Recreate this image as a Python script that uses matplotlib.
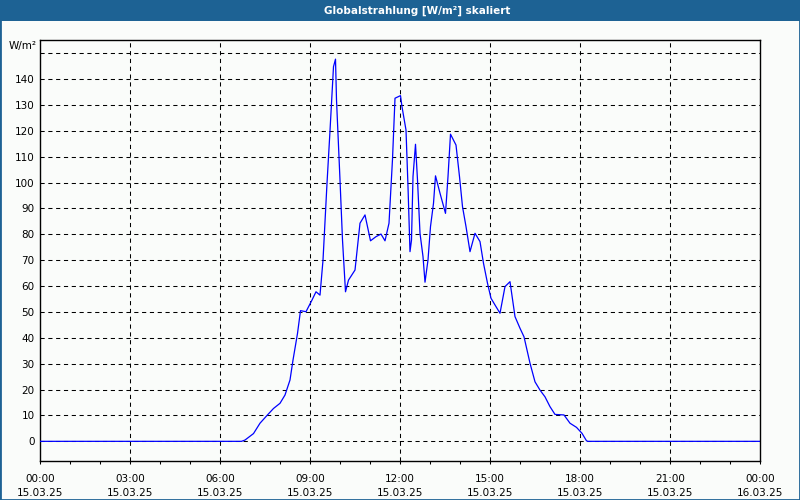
import numpy as np
import pandas as pd
import matplotlib
matplotlib.use("Agg")
import matplotlib.pyplot as plt
import matplotlib.dates as mdates
from matplotlib.patches import Rectangle

# Globalstrahlung 15.03.25
times = ["00:00", "06:43", "06:50", "07:07", "07:20", "07:34", "07:47", "08:00", "08:10", "08:20",
         "08:26", "08:35", "08:41", "08:52", "09:04", "09:12", "09:20", "09:26", "09:34", "09:40",
         "09:47", "09:51", "09:53", "10:00", "10:05", "10:11", "10:17", "10:30", "10:40", "10:50",
         "11:01", "11:12", "11:22", "11:30", "11:38", "11:45", "11:50", "12:01", "12:04", "12:12",
         "12:16", "12:20", "12:23", "12:26", "12:31", "12:35", "12:40", "12:46", "12:50", "12:56",
         "13:01", "13:07", "13:11", "13:20", "13:31", "13:36", "13:41", "13:52", "13:59", "14:05",
         "14:12", "14:20", "14:30", "14:40", "14:47", "14:55", "15:02", "15:10", "15:20", "15:30",
         "15:40", "15:50", "16:00", "16:08", "16:20", "16:30", "16:40", "16:50", "17:00", "17:10",
         "17:28", "17:40", "17:53", "18:04", "18:13", "18:16", "23:59"]
values = [0, 0, 0.5, 3, 7, 10, 12.7, 14.7, 17.9, 23.7,
          31.4, 41.7, 50.5, 50.1, 54.6, 57.8, 56.5, 70, 99.7, 120,
          144.8, 147.7, 132, 101, 77.8, 57.8, 62.3, 66.2, 84.3, 87.5,
          77.5, 79.1, 80.1, 77.5, 84.3, 109, 132.6, 133.6, 129.3, 120.3,
          98.4, 73.3, 77.8, 102.3, 114.8, 101, 80.4, 71.4, 61.5, 70.1,
          83, 92, 102.6, 95.9, 88.1, 102.3, 118.7, 114.5, 102.3, 90.7,
          83, 73.3, 80.4, 77.2, 68.8, 61.1, 55.3, 52.7, 49.5, 59.8,
          61.7, 48.2, 43.7, 40.4, 30.2, 23, 19.8, 17.2, 13.4, 10.4,
          10.2, 7, 5.4, 3.1, 0.2, 0, 0]
y_ticks = list(range(0, 150, 10))
y_grid = list(range(0, 160, 10))

t = pd.to_datetime(["2025-03-15 " + s for s in times])
t0 = pd.Timestamp("2025-03-15 00:00")
t1 = pd.Timestamp("2025-03-16 00:00")

bg = "#fafcfa"
blue = "#1d6294"

fig = plt.figure(figsize=(8, 5), dpi=100, facecolor=bg)
ax = fig.add_axes([40 / 800, 39 / 500, 720 / 800, 421 / 500], facecolor=bg)

# Titelleiste
fig.patches.append(Rectangle((0, 1 - 21 / 500), 1, 21 / 500, transform=fig.transFigure,
                             facecolor=blue, edgecolor="none", zorder=0))
fig.patches.append(Rectangle((0, 0), 1, 1, transform=fig.transFigure,
                             facecolor="none", edgecolor=blue, lw=2, zorder=5))
fig.text(417 / 800, 1 - 11 / 500, "Globalstrahlung [W/m²] skaliert", color="white",
         fontsize=7.5, fontweight="bold", ha="center", va="center")
fig.text(37 / 800, 1 - 46 / 500, "W/m²", fontsize=7.5, ha="right", va="center")

for v in y_grid:
    ax.axhline(v, color="black", lw=0.75, linestyle=(0, (4, 3.5)), zorder=1)
for h in range(3, 24, 3):
    ax.axvline(t0 + pd.Timedelta(hours=h), color="black", lw=0.75, linestyle=(0, (4, 3.5)), zorder=1)

ax.plot(t, values, color="#0000ff", lw=0.9, zorder=3)

ax.set_xlim(t0, t1)
ax.set_ylim(-7.6, 155.1)
ax.set_yticks(y_ticks)
ax.tick_params(axis="y", length=0, pad=4, labelsize=7.5)
ax.xaxis.set_major_locator(mdates.HourLocator(byhour=range(0, 24, 3)))
ax.xaxis.set_minor_locator(mdates.HourLocator())
ax.xaxis.set_major_formatter(mdates.DateFormatter("%H:%M\n%d.%m.%y"))
ax.tick_params(axis="x", which="both", direction="out", length=2.5, width=0.75, pad=7, labelsize=7.5)
for lab in ax.get_xticklabels():
    lab.set_linespacing(1.45)
for s in ax.spines.values():
    s.set_linewidth(1.0)

fig.savefig("out.png", dpi=100, facecolor=bg)
